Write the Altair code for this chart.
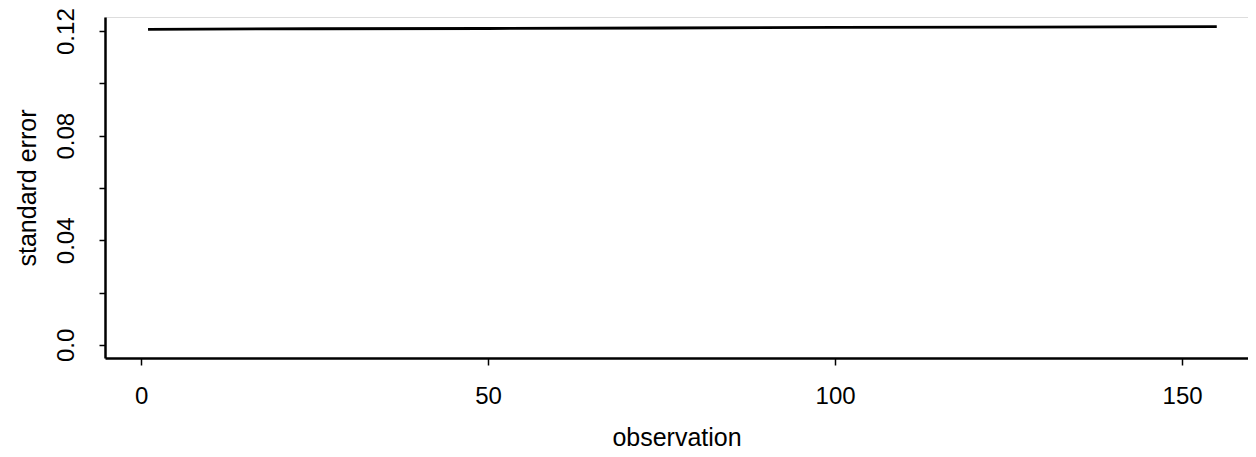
import altair as alt
import pandas as pd

# values
observation = [1, 25, 50, 75, 100, 125, 155]
std_error = [0.1207, 0.1209, 0.1210, 0.1212, 0.1214, 0.1215, 0.1217]

x_ticks = [0, 50, 100, 150]
y_ticks = [0.0, 0.02, 0.04, 0.06, 0.08, 0.10, 0.12]

df = pd.DataFrame({"observation": observation, "se": std_error})

font = "Liberation Sans"

chart = alt.Chart(df).mark_line(color="black", strokeWidth=2.8).encode(
    x=alt.X(
        "observation:Q",
        scale=alt.Scale(domain=[-5.2, 159.5], nice=False, zero=False),
        axis=alt.Axis(
            values=x_ticks,
            title="observation",
            grid=False,
            domainColor="black",
            domainWidth=2.5,
            tickColor="black",
            tickWidth=1.5,
            tickSize=7,
            labelFont=font,
            labelFontSize=24,
            labelColor="black",
            labelPadding=19,
            titleFont=font,
            titleFontSize=25,
            titleFontWeight="normal",
            titleColor="black",
            titlePadding=17,
        ),
    ),
    y=alt.Y(
        "se:Q",
        scale=alt.Scale(domain=[-0.005, 0.1254], nice=False, zero=False),
        axis=alt.Axis(
            values=y_ticks,
            labelExpr="(abs(datum.value*100 % 4) < 0.001 || abs(datum.value*100 % 4 - 4) < 0.001) ? (datum.value == 0 ? '0.0' : format(datum.value, '.2f')) : ''",
            title="standard error",
            grid=False,
            domainColor="black",
            domainWidth=2.5,
            tickColor="black",
            tickWidth=1.5,
            tickSize=6,
            labelAngle=-90,
            labelAlign="center",
            labelBaseline="bottom",
            labelFont=font,
            labelFontSize=24,
            labelColor="black",
            labelPadding=21,
            titleFont=font,
            titleFontSize=25,
            titleFontWeight="normal",
            titleColor="black",
            titlePadding=14,
        ),
    ),
).properties(
    width=1143,
    height=341,
    autosize=alt.AutoSizeParams(type="none"),
    padding={"left": 97, "top": 9, "right": 0, "bottom": 96},
).configure_view(stroke=None).configure(background="white")

chart.save("out.html", embed_options={"renderer": "svg", "actions": False})
